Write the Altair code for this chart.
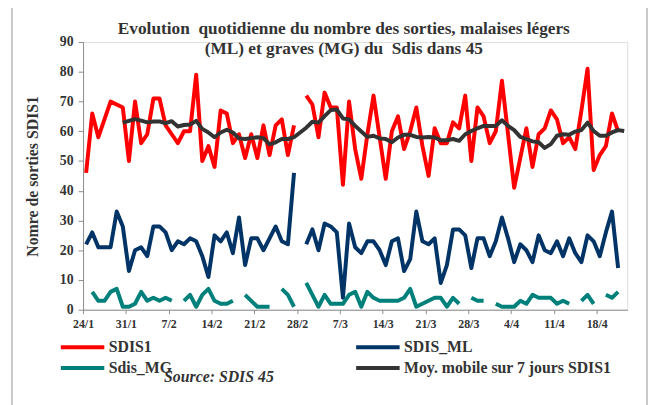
import altair as alt
import pandas as pd

# ---------------- data ----------------
names = ["SDIS1", "SDIS_ML", "Sdis_MG", "Moy. mobile sur 7 jours SDIS1"]
colors = ["#FF0000", "#003366", "#00807A", "#333333"]
# legend is filled column by column: SDIS1 / Sdis_MG, then SDIS_ML / Moy. mobile
legend_order = [0, 2, 1, 3]

first_day = "2010-01-24"
n_days = 89

sdis1 = [46, 66, 58, 64, 70, 69, 68, 50, 70, 56, 59, 71, 71, 62, 59, 56, 60, 60, 79, 50,
         55, 48, 67, 66, 56, 59, 51, 59, 51, 62, 52, 62, 64, 52, 62, None, 72, 69, 58, 73,
         68, 68, 42, 70, 54, 44, 59, 72, 58, 44, 60, 65, 54, 60, 68, 55, 45, 61, 56, 56,
         63, 61, 72, 50, 68, 65, 56, 60, 77, 59, 41, 51, 61, 48, 59, 61, 67, 64, 56, 58,
         54, 67, 81, 47, 52, 55, 66, 60]

sdis_ml = [22, 26, 21, 21, 21, 33, 28, 13, 20, 21, 18, 28, 28, 26, 20, 23, 22, 24, 23, 18,
           11, 25, 23, 26, 19, 31, 15, 24, 24, 20, 24, 28, 23, 22, 46, None, 22, 27, 20, 29,
           28, 26, 4, 29, 21, 19, 23, 23, 20, 15, 23, 24, 13, 17, 33, 23, 22, 24, 9, 15,
           27, 27, 25, 14, 24, 24, 18, 23, 31, 24, 16, 22, 20, 16, 25, 20, 19, 23, 18, 24,
           19, 16, 25, 23, 18, 26, 33, 14]

sdis_mg = [None, 6, 3, 3, 6, 7, 1, 1, 2, 6, 3, 4, 3, 4, 3, None, 3, 5, 1, 5,
           7, 3, 2, 2, 3, None, 5, 3, 1, 1, 1, None, 7, 5, 1, None, 9, 5, 1, 5,
           2, 2, 2, 5, 6, 1, 6, 4, 3, 3, 3, 3, 4, 7, 1, 2, 3, 4, 4, 1,
           4, 2, None, 4, 3, 3, None, 2, 1, 1, 1, 3, 2, 5, 4, 4, 4, 2, 3, 2,
           None, 3, 5, 2, None, 5, 4, 6]

moy7 = [None, None, None, None, None, None,
        62.9, 63.5, 64.1, 63.6, 63.0, 63.3, 63.3, 62.7, 63.4, 61.6, 62.1, 62.3, 63.5, 60.8,
        59.6, 58.0, 59.6, 60.5, 59.6, 57.6, 57.4, 57.7, 58.0, 57.7, 55.6, 56.3, 57.4, 57.4,
        58.0, 59.6, 61.2, 63.2, 62.9, 65.1, 67.1, 67.3, 64.3, 64.0, 61.8, 59.9, 58.1, 58.5,
        57.6, 57.4, 56.3, 57.9, 58.8, 58.8, 58.1, 57.9, 58.1, 57.9, 57.0, 57.0, 57.4, 56.8,
        59.0, 60.1, 61.0, 61.8, 61.8, 61.8, 63.7, 61.8, 60.4, 58.1, 57.4, 56.6, 56.3, 54.4,
        55.7, 58.5, 59.0, 58.8, 59.9, 60.4, 62.9, 60.1, 58.5, 58.5, 59.6, 60.4, 60.1]

tick_labels = ["24/1", "31/1", "7/2", "14/2", "21/2", "28/2", "7/3", "14/3",
               "21/3", "28/3", "4/4", "11/4", "18/4"]

title_lines = ["Evolution\u00a0 quotidienne du nombre des sorties, malaises légers",
               "(ML) et graves (MG) du\u00a0 Sdis dans 45"]
y_title = "Nomre de sorties SDIS1"
source_text = "Source: SDIS 45"

# ---------------- table ----------------
days = pd.date_range(first_day, periods=n_days, freq="D")
stamps = [d.strftime("%Y-%m-%dT12:00:00Z") for d in days]

rows = []
for name, vals in zip(names, [sdis1, sdis_ml, sdis_mg, moy7]):
    vals = list(vals) + [None] * (n_days - len(vals))
    for s, v in zip(stamps, vals):
        rows.append({"date": s, "serie": name, "value": v})
df = pd.DataFrame(rows)

def dt(ts):
    return alt.DateTime(year=ts.year, month=ts.month, date=ts.day, utc=True)

tick_days = [days[0] + pd.Timedelta(days=7 * k) for k in range(len(tick_labels))]
x_domain = [dt(days[0]), dt(days[-1] + pd.Timedelta(days=1))]

FONT = "Liberation Serif"
TXT = "#333333"
AX = "#8c8c8c"

color = alt.Color(
    "serie:N",
    scale=alt.Scale(domain=[names[i] for i in legend_order],
                    range=[colors[i] for i in legend_order]),
    legend=alt.Legend(
        title=None, orient="none", legendX=8, legendY=301, columns=2,
        symbolType="M-7,0H1", symbolSize=121, symbolStrokeWidth=4,
        labelFont=FONT, labelFontSize=16, labelFontWeight="bold", labelColor=TXT,
        labelOffset=2, columnPadding=177, rowPadding=5, labelLimit=400,
    ),
)

x = alt.X(
    "date:T",
    scale=alt.Scale(type="utc", domain=x_domain),
    axis=alt.Axis(
        values=[dt(t) for t in tick_days], format="%-d/%-m", title=None,
        labelFont=FONT, labelFontSize=12, labelFontWeight="bold", labelColor=TXT,
        labelFlush=False, labelOverlap=False, labelPadding=5, tickSize=4,
        domainColor=AX, tickColor=AX, grid=False,
    ),
)
y = alt.Y(
    "value:Q",
    scale=alt.Scale(domain=[0, 90], nice=False, zero=True),
    axis=alt.Axis(
        values=list(range(0, 91, 10)), title=y_title,
        labelFont=FONT, labelFontSize=14, labelFontWeight="bold", labelColor=TXT,
        labelPadding=5, tickSize=5, domainColor=AX, tickColor=AX, grid=False,
        titleFont=FONT, titleFontSize=16, titleFontWeight="bold", titleColor=TXT,
        titlePadding=19,
    ),
)

base = alt.Chart(df).mark_line(
    strokeWidth=4, strokeJoin="round", invalid="break-paths-filter-domains"
).encode(x=x, y=y, color=color)

lines3 = base.transform_filter(alt.datum.serie != names[3])
ma = base.transform_filter(alt.datum.serie == names[3])

def text_layer(t, xpos, ypos, align="center", size=16, style="normal"):
    return alt.Chart(pd.DataFrame({"t": [t]})).mark_text(
        align=align, baseline="alphabetic", font=FONT, fontSize=size,
        fontWeight="bold", fontStyle=style, color=TXT,
    ).encode(x=alt.value(xpos), y=alt.value(ypos), text="t:N")

title1 = text_layer(title_lines[0], 264, -8, size=17.5)
title2 = text_layer(title_lines[1], 264, 12, size=17.5)
src = text_layer(source_text, 82, 344, align="left", style="italic")

border = alt.Chart(pd.DataFrame({"k": [0]})).mark_rule(
    color="#c8c8c8", strokeWidth=2
).encode(x=alt.value(-72), y=alt.value(-40), y2=alt.value(370))
border_r = alt.Chart(pd.DataFrame({"k": [0]})).mark_rule(
    color="#c8c8c8", strokeWidth=2
).encode(x=alt.value(571), y=alt.value(-40), y2=alt.value(370))

chart = alt.layer(lines3, ma, title1, title2, src, border, border_r).properties(
    width=551, height=271,
    autosize=alt.AutoSizeParams(type="none"),
    padding={"left": 76, "top": 32, "right": 23, "bottom": 94},
).configure_view(stroke=None).configure(background="white")

chart.save("out.html", embed_options={"renderer": "svg", "actions": False})
